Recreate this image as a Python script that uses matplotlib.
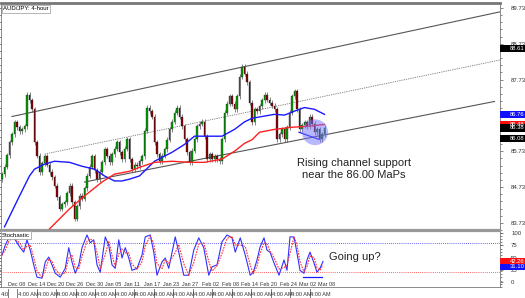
import numpy as np
import pandas as pd
import matplotlib
matplotlib.use("Agg")
import matplotlib.pyplot as plt
from matplotlib.patches import Ellipse, Rectangle
from matplotlib.lines import Line2D

plt.rcParams["font.family"] = ["Liberation Sans", "DejaVu Sans"]

# AUD/JPY 4-hour closes
first_open = 84.95
closes = [85.09, 85.30, 85.62, 85.98, 86.20, 86.54, 86.40, 86.29, 86.35, 86.43,
          87.31, 87.15, 86.90, 85.98, 85.60, 85.15, 85.40, 85.59, 85.35, 85.15,
          85.00, 84.76, 84.45, 84.12, 84.25, 84.31, 84.55, 84.76, 84.30, 83.84,
          84.20, 84.48, 84.40, 84.70, 85.04, 85.30, 85.59, 85.20, 84.95, 85.15,
          85.42, 85.79, 85.60, 85.42, 85.65, 85.80, 85.98, 85.70, 85.51, 85.80,
          86.06, 85.51, 85.23, 85.35, 85.31, 85.45, 85.59, 86.30, 86.95, 86.85,
          86.70, 85.98, 85.65, 85.45, 85.60, 85.79, 86.05, 86.34, 86.55, 86.80,
          86.95, 86.70, 86.43, 86.06, 85.70, 85.42, 85.75, 86.06, 86.43, 86.50,
          86.56, 86.15, 85.51, 85.65, 85.50, 85.59, 85.50, 85.45, 86.06, 86.81,
          87.05, 87.26, 87.05, 86.90, 87.26, 87.81, 88.09, 87.90, 87.65, 87.09,
          86.54, 86.90, 86.85, 86.98, 87.15, 87.31, 87.17, 87.09, 87.00, 86.90,
          86.06, 86.20, 86.34, 86.06, 86.40, 86.81, 87.26, 87.40, 86.90, 86.34,
          86.45, 86.54, 86.43, 86.70, 86.50, 86.26, 86.34, 86.06, 86.20, 86.38]

blue_ma_idx = [1, 7, 11, 13, 17, 21, 27, 32, 37, 41, 45, 48, 51, 55, 61, 68, 73, 77,
               83, 88, 93, 97, 100, 104, 109, 113, 117, 121, 125, 129]
blue_ma = [83.62, 84.48, 85.04, 85.23, 85.37, 85.45, 85.42, 85.31, 85.23, 85.04,
           84.90, 84.90, 84.95, 85.04, 85.45, 85.70, 85.92, 86.15, 86.15, 86.15,
           86.34, 86.55, 86.65, 86.70, 86.76, 86.74, 86.85, 86.95, 86.90, 86.76]

red_ma_idx = [19, 27, 33, 40, 45, 51, 55, 61, 68, 75, 81, 88, 93, 97, 100, 103,
              109, 116, 123, 129]
red_ma = [83.56, 84.12, 84.48, 84.87, 85.09, 85.17, 85.28, 85.42, 85.45, 85.42,
          85.42, 85.51, 85.73, 85.95, 86.05, 86.26, 86.34, 86.40, 86.43, 86.48]

# channel lines (start, end)
upper_x, upper_y = [4, 199], [86.70, 89.62]
mid_x, mid_y = [17, 200], [85.65, 88.29]
lower_x, lower_y = [33, 197], [84.87, 87.12]
wedge_x, wedge_y = [118.8, 126.8], [86.26, 86.06]

# stochastic %K
stoch_idx = [0, 1.3, 2.7, 4, 5.3, 7.3, 8.7, 10, 11.3, 12.7, 14, 16, 17.3, 18.7, 20,
             21.3, 23.3, 25.3, 26.7, 28, 29.3, 30.7, 32, 34, 35.3, 36.7, 38, 39.3,
             41.3, 42.7, 44, 45.3, 46.7, 48, 49.3, 50.7, 52, 54, 56, 57.3, 59.3,
             60.7, 62, 64, 65.3, 66.7, 69.3, 70.7, 72.7, 74.7, 76.7, 78.7, 80.7,
             82.7, 84, 86, 88, 90, 92, 93.3, 95.3, 97.3, 99.3, 100.5, 102, 103.2,
             104.8, 106, 107.2, 108.8, 110.8, 112.8, 114, 115.2, 116.8, 118, 119.2,
             120.8, 122, 123.2, 124.8, 126, 127.2, 128.4]
stoch_k = [55, 75, 90, 92, 86, 70, 61, 86, 65, 35, 10, 8, 41, 51, 35, 18, 10, 28,
           70, 41, 18, 35, 70, 96, 80, 86, 35, 20, 92, 75, 35, 28, 86, 49, 70, 49,
           24, 28, 55, 92, 96, 61, 14, 41, 49, 28, 92, 61, 14, 14, 65, 90, 70, 14,
           31, 35, 82, 96, 90, 61, 90, 55, 14, 20, 45, 71, 90, 65, 61, 39, 14, 45,
           24, 92, 92, 59, 24, 18, 45, 61, 39, 20, 28, 42]
stoch_support_x, stoch_support_y = [120.4, 128], [10, 10]

price_ticks = [83.73, 84.73, 85.73, 86.73, 87.73, 88.73, 89.73]
price_tick_labels = ["83.73", "84.73", "85.73", "", "87.73", "88.73", "89.73"]
price_boxes = [(88.61, "88.61", "black"), (86.76, "86.76", "#1010ff"),
               (86.48, "86.48", "#ff1010"), (86.38, "86.38", "black"),
               (86.08, "86.08", "black")]
stoch_ticks = [0, 25, 50, 75, 100]
stoch_boxes = [(42.26, "42.26", "#ff1010"), (31.10, "31.10", "#1010ff")]

date_labels = ["Dec 08", "Dec 14", "Dec 20", "Dec 26", "Dec 30", "Jan 05", "Jan 11",
               "Jan 17", "Jan 23", "Jan 27", "Feb 02", "Feb 08", "Feb 14", "Feb 20",
               "Feb 24", "Mar 02", "Mar 08"]
date_pos = [2.4, 10.2, 17.9, 25.7, 33.4, 41.2, 49.0, 56.7, 64.5, 72.2, 80.0, 87.8,
            95.5, 103.3, 111.0, 118.8, 126.6]

W, H = 525, 298
fig = plt.figure(figsize=(W / 100, H / 100), dpi=100)
ax = fig.add_axes([1 / W, 1 - 230 / H, 499 / W, 227 / H])
ax2 = fig.add_axes([1 / W, 1 - 287 / H, 499 / W, 56 / H])

# candles
opens = [first_open] + closes[:-1]
wick = 0.07
for i, (o, c) in enumerate(zip(opens, closes)):
    up = c >= o
    ax.vlines(i, min(o, c) - wick, max(o, c) + wick, color="#707070", lw=0.6, zorder=2)
    ax.bar(i, max(abs(c - o), 0.02), bottom=min(o, c), width=0.75,
           color="#00a000" if up else "#8b0000", edgecolor="#202020", lw=0.25, zorder=3)

ax.plot(blue_ma_idx, blue_ma, color="#1a1aff", lw=1.0, zorder=3)
ax.plot(red_ma_idx, red_ma, color="#ff2020", lw=1.0, zorder=3)
ax.plot(upper_x, upper_y, color="#555555", lw=0.8)
ax.plot(mid_x, mid_y, color="#777777", lw=0.6, ls=(0, (1.5, 1.2)))
ax.plot(lower_x, lower_y, color="#555555", lw=0.8)
ax.plot(wedge_x, wedge_y, color="#1a1aff", lw=0.9, zorder=4)
ax.add_patch(Ellipse((125.2, 86.26), 10.4, 0.72, facecolor=(0.45, 0.45, 1.0, 0.5),
                     edgecolor="none", zorder=5))

ax.text(140.8, 85.24, "Rising channel support\nnear the 86.00 MaPs", ha="center",
        va="center", fontsize=8, color="#222222", linespacing=1.25)
ax.text(0.004, 0.985, "AUD/JPY: 4-hour", transform=ax.transAxes, fontsize=4.3,
        va="top", ha="left", bbox=dict(boxstyle="square,pad=0.2", fc="white", ec="#999999", lw=0.5))

ax.set_xlim(-0.4, 199.2)
ax.set_ylim(83.56, 89.87)
ax.set_xticks([])
ax.set_yticks(price_ticks)
ax.set_yticklabels(price_tick_labels)
ax.set_yticks(np.arange(83.53, 89.9, 0.2), minor=True)
ax.tick_params(which="both", left=True, right=True, labelleft=False, labelright=True,
               length=2, width=0.5, color="#555555", labelsize=4.3, labelcolor="#333333", pad=6)
ax.tick_params(which="minor", length=1.5)
for s in ["left", "right"]:
    ax.spines[s].set_color("#777777")
    ax.spines[s].set_linewidth(0.6)
ax.spines["top"].set_color("#777777")
ax.spines["top"].set_linewidth(2)
ax.spines["bottom"].set_color("#999999")
ax.spines["bottom"].set_linewidth(1.6)

for val, txt, col in price_boxes:
    ax.add_patch(Rectangle((1.0, val - 0.1), 0.052, 0.2, transform=ax.get_yaxis_transform(),
                           facecolor=col, edgecolor="none", clip_on=False, zorder=6))
    ax.text(1.02, val, txt, transform=ax.get_yaxis_transform(), fontsize=4.2,
            color="white", va="center", ha="left", zorder=7)

# stochastic panel
d_line = pd.Series(stoch_k).rolling(2, min_periods=1).mean()
ax2.axhline(80, color="#3030ff", lw=0.6, ls=(0, (1, 1.5)))
ax2.axhline(20, color="#ff3030", lw=0.6, ls=(0, (1, 1.5)))
ax2.plot(stoch_idx, stoch_k, color="#3030ff", lw=0.8)
ax2.plot(stoch_idx, d_line, color="#ff3030", lw=0.8, ls=(0, (1.5, 1)))
ax2.plot(stoch_support_x, stoch_support_y, color="#1a1aff", lw=0.9)
ax2.text(130.8, 52, "Going up?", fontsize=8, color="#222222", va="center", ha="left")
ax2.text(0.002, 0.97, "Stochastic", transform=ax2.transAxes, fontsize=4.3, va="top",
         ha="left", bbox=dict(boxstyle="square,pad=0.2", fc="white", ec="#999999", lw=0.5))
for lab, p in zip(date_labels, date_pos):
    ax2.text(p, -5, lab, fontsize=3.9, ha="left", va="center", color="#333333")

ax2.set_xlim(-0.4, 199.2)
ax2.set_ylim(-10, 104)
ax2.set_xticks([])
ax2.set_yticks(stoch_ticks)
ax2.set_yticks(np.arange(-10, 104, 6.5), minor=True)
ax2.tick_params(which="both", left=True, right=True, labelleft=False, labelright=True,
                length=2, width=0.5, color="#555555", labelsize=4.3, labelcolor="#333333", pad=6)
ax2.tick_params(which="minor", length=1.5)
for s in ["left", "right", "bottom"]:
    ax2.spines[s].set_color("#777777")
    ax2.spines[s].set_linewidth(0.6)
ax2.spines["top"].set_color("#999999")
ax2.spines["top"].set_linewidth(1.6)

for val, txt, col in stoch_boxes:
    ax2.add_patch(Rectangle((1.0, val - 6), 0.052, 12, transform=ax2.get_yaxis_transform(),
                            facecolor=col, edgecolor="none", clip_on=False, zorder=6))
    ax2.text(1.02, val, txt, transform=ax2.get_yaxis_transform(), fontsize=4.2,
             color="white", va="center", ha="left", zorder=7)

# bottom time row
fig.text(1 / W, 1 - 294 / H, "4:0", fontsize=4.2, va="center", color="#333333")
seps = [8] + [17 + 19.5 * k for k in range(16)]
for x in seps:
    fig.add_artist(Line2D([x / W, x / W], [1 - 298 / H, 1 - 289 / H], color="#666666", lw=0.6))
for k in range(16):
    fig.text((18 + 19.5 * k) / W, 1 - 294 / H, "4:00 AM", fontsize=4.0, va="center",
             color="#333333")

fig.savefig("out.png", dpi=100)
